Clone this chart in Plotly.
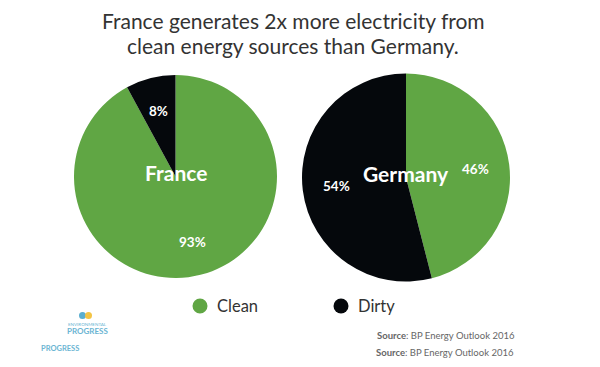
import math
import plotly.graph_objects as go

countries = ["France", "Germany"]
categories = ["Clean", "Dirty"]
france_values = [93, 8]
germany_values = [46, 54]
france_labels = ["93%", "8%"]
germany_labels = ["46%", "54%"]
source_text = "<b>Source</b>: BP Energy Outlook 2016"
title_lines = ["France generates 2x more electricity from", "clean energy sources than Germany."]

GREEN = "#60a644"
BLACK = "#05080c"
COLORS = [GREEN, BLACK]
FONT = "Lato, 'Open Sans', sans-serif"
W, H = 600, 367


def px(x, y):
    return x / W, 1 - y / H


# pie geometry in pixels: (left, right, top, bottom)
pie_boxes = {"France": (74, 277, 75, 278), "Germany": (302, 510, 73, 282)}
pie_values = {"France": france_values, "Germany": germany_values}
pie_texts = {"France": france_labels, "Germany": germany_labels}

fig = go.Figure()
ann = []


def add_text(text, x, y, size, color, anchor="center"):
    ann.append(dict(text=text, x=x / W, y=1 - y / H, xref="paper", yref="paper",
                    xanchor=anchor, yanchor="middle", showarrow=False,
                    font=dict(size=size, color=color, family=FONT)))


for c in countries:
    l, r, t, b = pie_boxes[c]
    fig.add_trace(go.Pie(
        labels=categories, values=pie_values[c], textinfo="none",
        sort=False, direction="clockwise", rotation=0,
        marker=dict(colors=COLORS, line=dict(width=0)),
        domain=dict(x=[l / W, r / W], y=[1 - b / H, 1 - t / H]),
        showlegend=False, hoverinfo="label+value", name=c,
    ))
    cx, cy, R = (l + r) / 2, (t + b) / 2, min(r - l, b - t) / 2
    add_text(f"<b>{c}</b>", cx, cy - 4, 21, "white")
    vals = pie_values[c]
    total = sum(vals)
    cum = 0
    for v, txt in zip(vals, pie_texts[c]):
        mid = (cum + v / 2) / total * 2 * math.pi
        cum += v
        lx = cx + 0.67 * R * math.sin(mid)
        ly = cy - 0.67 * R * math.cos(mid)
        add_text(f"<b>{txt}</b>", lx, ly, 13.5, "white")

# title
for i, line in enumerate(title_lines):
    add_text(line, 293, 21 + 24 * i, 21, "#333333")

# legend (drawn manually)
shapes = []
legend_pos = [(200, 306), (341, 306)]
for name, col, (lx, ly) in zip(categories, COLORS, legend_pos):
    shapes.append(dict(type="circle", xref="paper", yref="paper",
                       x0=(lx - 7.5) / W, x1=(lx + 7.5) / W,
                       y0=1 - (ly + 7.5) / H, y1=1 - (ly - 7.5) / H,
                       fillcolor=col, line=dict(width=0)))
    add_text(name, lx + 15, ly, 16.5, "#333333", anchor="left")

# sources
add_text(source_text, 517, 335, 9.5, "#666666", anchor="right")
add_text(source_text, 516, 352, 9.5, "#666666", anchor="right")

# logo
shapes.append(dict(type="circle", xref="paper", yref="paper", x0=79 / W, x1=86 / W,
                   y0=1 - 319 / H, y1=1 - 312 / H, fillcolor="#5aaed0", line=dict(width=0)))
shapes.append(dict(type="circle", xref="paper", yref="paper", x0=85 / W, x1=92 / W,
                   y0=1 - 319 / H, y1=1 - 312 / H, fillcolor="#f3c445", line=dict(width=0)))
add_text("ENVIRONMENTAL", 87, 324, 4.5, "#6bb5d3")
add_text("<b>PROGRESS</b>", 87, 331, 8, "#6bb5d3")
add_text("<b>PROGRESS</b>", 60, 348, 7.5, "#6bb5d3")

fig.update_layout(
    width=W, height=H,
    margin=dict(l=0, r=0, t=0, b=0),
    paper_bgcolor="white", plot_bgcolor="white",
    showlegend=False,
    annotations=ann, shapes=shapes,
)

fig.write_html("out.html", config={"displayModeBar": False},
               post_script="document.body.style.margin='0px';")
